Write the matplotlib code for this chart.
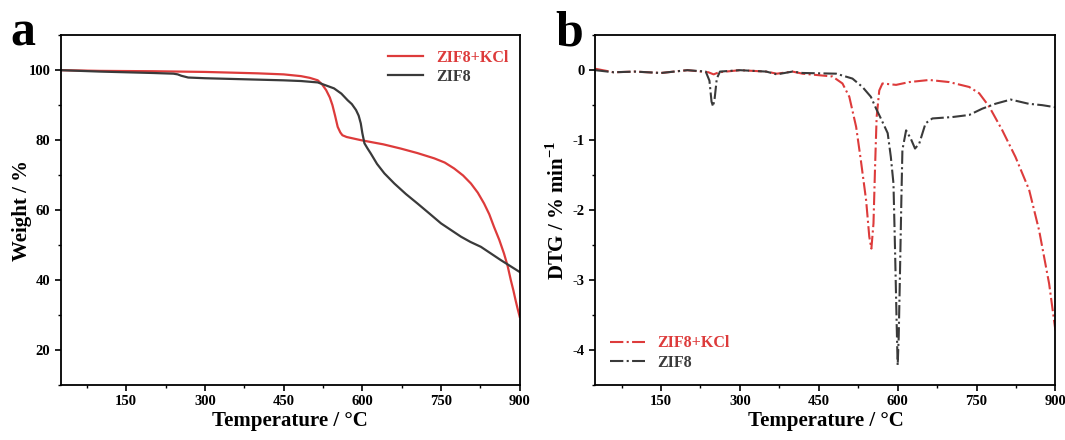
import matplotlib
matplotlib.use("Agg")
import matplotlib.pyplot as plt
from matplotlib.ticker import MultipleLocator

plt.rcParams['font.family'] = ['Liberation Serif', 'DejaVu Serif']
plt.rcParams['font.weight'] = 'bold'
plt.rcParams['mathtext.fontset'] = 'custom'
plt.rcParams['mathtext.rm'] = 'Liberation Serif:bold'
plt.rcParams['mathtext.bf'] = 'Liberation Serif:bold'
plt.rcParams['axes.unicode_minus'] = False

RED = '#dd3b3b'
BLACK = '#3a3a3a'

# ---- TGA data (panel a) ----
tga_kcl_T = [25, 100, 200, 300, 400, 450, 483, 500, 515, 523, 531, 538, 543, 548, 553, 558, 562, 570, 597, 640, 673,
             705, 737, 757, 775, 792, 807, 820, 832, 842, 851, 861, 870, 877, 883, 888, 892, 896, 900]
tga_kcl_W = [100, 99.8, 99.7, 99.5, 99.1, 98.8, 98.3, 97.8, 97.1, 96.0, 94.3, 92.2, 90.0, 87.0, 83.8, 82.2, 81.4, 80.9,
             80.0, 78.8, 77.6, 76.3, 74.8, 73.6, 71.9, 69.9, 67.6, 65.0, 61.9, 58.8, 55.2, 51.5, 47.6, 44.0, 40.0,
             37.0, 34.3, 31.8, 29.5]
tga_zif_T = [25, 100, 200, 240, 248, 255, 268, 300, 350, 400, 450, 483, 515, 546, 560, 572, 580, 588, 593, 597, 600,
             604, 610, 616, 628, 642, 661, 683, 705, 728, 750, 770, 788, 806, 826, 845, 864, 882, 900]
tga_zif_W = [100, 99.6, 99.2, 99.0, 98.8, 98.4, 97.9, 97.7, 97.5, 97.3, 97.1, 96.9, 96.5, 94.8, 93.3, 91.4, 90.3,
             88.6, 87.0, 84.8, 82.0, 79.1, 77.6, 76.2, 73.2, 70.5, 67.6, 64.6, 61.9, 59.0, 56.2, 54.2, 52.4, 50.9,
             49.5, 47.6, 45.7, 44.0, 42.3]

# ---- DTG data (panel b) ----
dtg_kcl_T = [25, 60, 100, 150, 200, 240, 250, 260, 300, 350, 370, 400, 419, 476, 495, 508, 521, 530, 540, 546, 550,
             554, 557, 560, 565, 571, 597, 622, 660, 698, 736, 755, 774, 799, 824, 850, 869, 888, 900]
dtg_kcl_D = [0.02, -0.03, -0.02, -0.04, 0.0, -0.03, -0.06, -0.03, 0.0, -0.02, -0.05, -0.02, -0.05, -0.09, -0.19,
             -0.38, -0.81, -1.29, -1.86, -2.38, -2.55, -2.19, -1.38, -0.67, -0.29, -0.19, -0.21, -0.17, -0.14, -0.17,
             -0.24, -0.33, -0.52, -0.86, -1.24, -1.71, -2.29, -3.05, -3.72]
dtg_zif_T = [25, 60, 100, 150, 200, 235, 242, 246, 249, 252, 256, 262, 300, 350, 370, 400, 419, 483, 514, 533, 549,
             559, 568, 581, 587, 592, 595, 598, 600, 602, 604, 607, 609, 616, 625, 633, 641, 653, 666, 704, 736, 761,
             786, 815, 849, 875, 900]
dtg_zif_D = [0.0, -0.03, -0.02, -0.04, 0.0, -0.02, -0.15, -0.45, -0.52, -0.4, -0.12, -0.02, 0.0, -0.02, -0.06, -0.02,
             -0.04, -0.05, -0.12, -0.24, -0.38, -0.55, -0.69, -0.9, -1.24, -1.62, -2.57, -3.6, -4.22, -3.8, -3.05,
             -1.86, -1.14, -0.86, -0.98, -1.12, -1.05, -0.76, -0.69, -0.67, -0.64, -0.55, -0.48, -0.42, -0.48, -0.5,
             -0.53]

x_ticks = [150, 300, 450, 600, 750, 900]

fig = plt.figure(figsize=(10.65, 4.4), dpi=100)
ax1 = fig.add_axes([0.057, 0.125, 0.431, 0.795])
ax2 = fig.add_axes([0.559, 0.125, 0.432, 0.795])

ax1.plot(tga_kcl_T, tga_kcl_W, color=RED, lw=1.6, label='ZIF8+KCl')
ax1.plot(tga_zif_T, tga_zif_W, color=BLACK, lw=1.6, label='ZIF8')
ax1.set_xlim(25, 900)
ax1.set_ylim(10, 110)
ax1.yaxis.set_major_locator(MultipleLocator(20))
ax1.yaxis.set_minor_locator(MultipleLocator(10))
ax1.set_ylabel('Weight / %', fontsize=15, fontweight='bold')
ax1.yaxis.set_label_coords(-0.062, 0.5)
leg1 = ax1.legend(loc='upper right', frameon=False, fontsize=11.5, handlelength=2.2,
                  bbox_to_anchor=(1.0, 0.99), borderaxespad=0.3, labelspacing=0.2)
for t, c in zip(leg1.get_texts(), [RED, BLACK]):
    t.set_color(c)
    t.set_fontweight('bold')

ax2.plot(dtg_kcl_T, dtg_kcl_D, color=RED, lw=1.5, ls='-.', label='ZIF8+KCl')
ax2.plot(dtg_zif_T, dtg_zif_D, color=BLACK, lw=1.5, ls='-.', label='ZIF8')
ax2.set_xlim(25, 900)
ax2.set_ylim(-4.5, 0.5)
ax2.yaxis.set_major_locator(MultipleLocator(1))
ax2.yaxis.set_minor_locator(MultipleLocator(0.5))
ax2.set_ylabel('DTG / % min$^{-1}$', fontsize=15, fontweight='bold')
ax2.yaxis.set_label_coords(-0.057, 0.5)
leg2 = ax2.legend(loc='lower left', frameon=False, fontsize=11.5, handlelength=2.2,
                  bbox_to_anchor=(0.0, 0.0), borderaxespad=0.5, labelspacing=0.2)
for t, c in zip(leg2.get_texts(), [RED, BLACK]):
    t.set_color(c)
    t.set_fontweight('bold')

for ax in (ax1, ax2):
    ax.set_xticks(x_ticks)
    ax.xaxis.set_minor_locator(MultipleLocator(75))
    ax.set_xlabel('Temperature / \u00b0C', fontsize=15, fontweight='bold', labelpad=2)
    ax.tick_params(axis='both', which='major', direction='out', length=4, width=1.2, labelsize=10.5,
                   top=False, right=False)
    ax.tick_params(axis='both', which='minor', direction='out', length=2.5, width=1.0, top=False, right=False)
    for lab in ax.get_xticklabels() + ax.get_yticklabels():
        lab.set_fontweight('bold')
    for sp in ax.spines.values():
        sp.set_linewidth(1.3)

fig.text(0.010, 0.975, 'a', fontsize=36, fontweight='bold', va='top', ha='left')
fig.text(0.521, 0.975, 'b', fontsize=36, fontweight='bold', va='top', ha='left')

fig.savefig('out.png', dpi=100)
